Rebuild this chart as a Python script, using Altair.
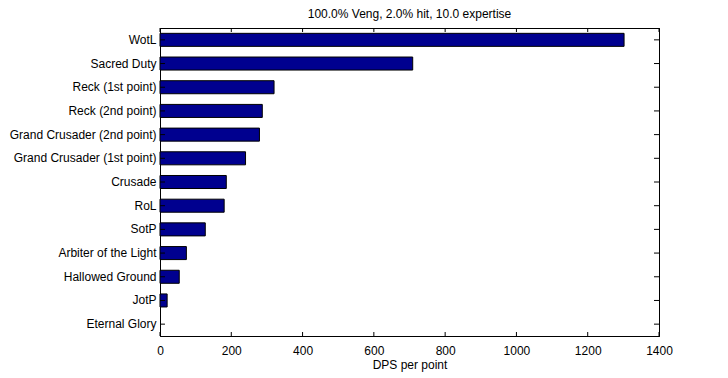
import altair as alt
import pandas as pd

categories = ["WotL", "Sacred Duty", "Reck (1st point)", "Reck (2nd point)",
              "Grand Crusader (2nd point)", "Grand Crusader (1st point)",
              "Crusade", "RoL", "SotP", "Arbiter of the Light",
              "Hallowed Ground", "JotP", "Eternal Glory"]
values = [1302, 709, 320, 287, 279, 240, 186, 180, 127, 74, 54, 20, 0]
x_ticks = [0, 200, 400, 600, 800, 1000, 1200, 1400]
x_min, x_max = 0, 1400
left_tick_len = 14  # in data units (~5 px)

title_text = "100.0% Veng, 2.0% hit, 10.0 expertise"
x_title = "DPS per point"

df = pd.DataFrame({"cat": categories, "val": values})
df["lo"] = x_min
df["hi"] = x_min + left_tick_len
tdf = pd.DataFrame({"val": x_ticks})

FONT = "Liberation Sans"
W, H = 499, 308

xaxis = alt.Axis(values=x_ticks, format="d", tickSize=0, ticks=False, grid=False,
                 domain=True, domainColor="black", domainWidth=1,
                 labelFlush=False, labelPadding=9, labelFontSize=12, labelFont=FONT,
                 labelColor="black",
                 title=x_title, titleFont=FONT, titleFontSize=12, titleFontWeight="normal",
                 titleColor="black", titlePadding=3)
yaxis = alt.Axis(tickSize=0, ticks=False, grid=False, domain=True, domainColor="black",
                 domainWidth=1, labelPadding=4,
                 labelFontSize=12, labelFont=FONT, labelColor="black", title=None,
                 labelLimit=400)
xaxis_top = alt.Axis(orient="top", labels=False, ticks=False, grid=False, domain=True,
                     domainColor="black", domainWidth=1, title=None)
yaxis_right = alt.Axis(orient="right", labels=False, ticks=False, grid=False, domain=True,
                       domainColor="black", domainWidth=1, title=None)

xscale = alt.Scale(domain=[x_min, x_max], nice=False, zero=True)
yscale = alt.Scale(domain=categories, paddingInner=0.45, paddingOuter=0.225)

X = alt.X("val:Q", scale=xscale, axis=xaxis)
Y = alt.Y("cat:N", sort=categories, scale=yscale, axis=yaxis)

bars = alt.Chart(df).mark_bar(color="#00008F", stroke="black", strokeWidth=1).encode(
    x=X, y=Y,
    strokeOpacity=alt.condition(alt.datum.val > 0, alt.value(1), alt.value(0)))

xt_top = alt.Chart(tdf).mark_rule(color="black", strokeWidth=1).encode(
    x=alt.X("val:Q", scale=xscale, axis=xaxis), y=alt.value(0), y2=alt.value(4))
xt_bot = alt.Chart(tdf).mark_rule(color="black", strokeWidth=1).encode(
    x=alt.X("val:Q", scale=xscale, axis=xaxis), y=alt.value(H), y2=alt.value(H - 4))
yt_left = alt.Chart(df).mark_rule(color="black", strokeWidth=1).encode(
    y=alt.Y("cat:N", sort=categories, scale=yscale, axis=yaxis, bandPosition=0.5),
    x=alt.X("lo:Q", scale=xscale, axis=xaxis), x2="hi:Q")

# layer that carries the mirrored (top / right) frame axes and right ticks
yt_right = alt.Chart(df).mark_rule(color="black", strokeWidth=1).encode(
    y=alt.Y("cat:N", sort=categories, scale=yscale, axis=yaxis_right, bandPosition=0.5),
    x=alt.X("hi:Q", scale=xscale, axis=xaxis_top),
    x2=alt.X2("hi:Q"),
).transform_calculate(hi=str(x_max)).encode(
    x=alt.value(W), x2=alt.value(W - 5))

left_part = alt.layer(bars, xt_top, xt_bot, yt_left)
right_part = alt.Chart(df).mark_rule(color="black", strokeWidth=1).encode(
    y=alt.Y("cat:N", sort=categories, scale=yscale, axis=yaxis_right, bandPosition=0.5),
    x=alt.X("val:Q", scale=xscale, axis=xaxis_top),
    strokeOpacity=alt.value(0))
right_ticks = alt.Chart(df).mark_rule(color="black", strokeWidth=1).encode(
    y=alt.Y("cat:N", sort=categories, scale=yscale, axis=yaxis_right, bandPosition=0.5),
    x=alt.value(W), x2=alt.value(W - 5))

chart = alt.layer(left_part, alt.layer(right_part, right_ticks)).resolve_axis(
    x="independent", y="independent").properties(
    width=W, height=H,
    title=alt.TitleParams(title_text, font=FONT, fontSize=12, fontWeight="normal",
                          color="black", anchor="middle", offset=7),
    autosize=alt.AutoSizeParams(type="none"),
    padding={"left": 152, "top": 20, "right": 61, "bottom": 42},
).configure(background="white").configure_view(stroke="black", strokeWidth=1)

chart.save("out.html", embed_options={"renderer": "svg", "actions": False})
